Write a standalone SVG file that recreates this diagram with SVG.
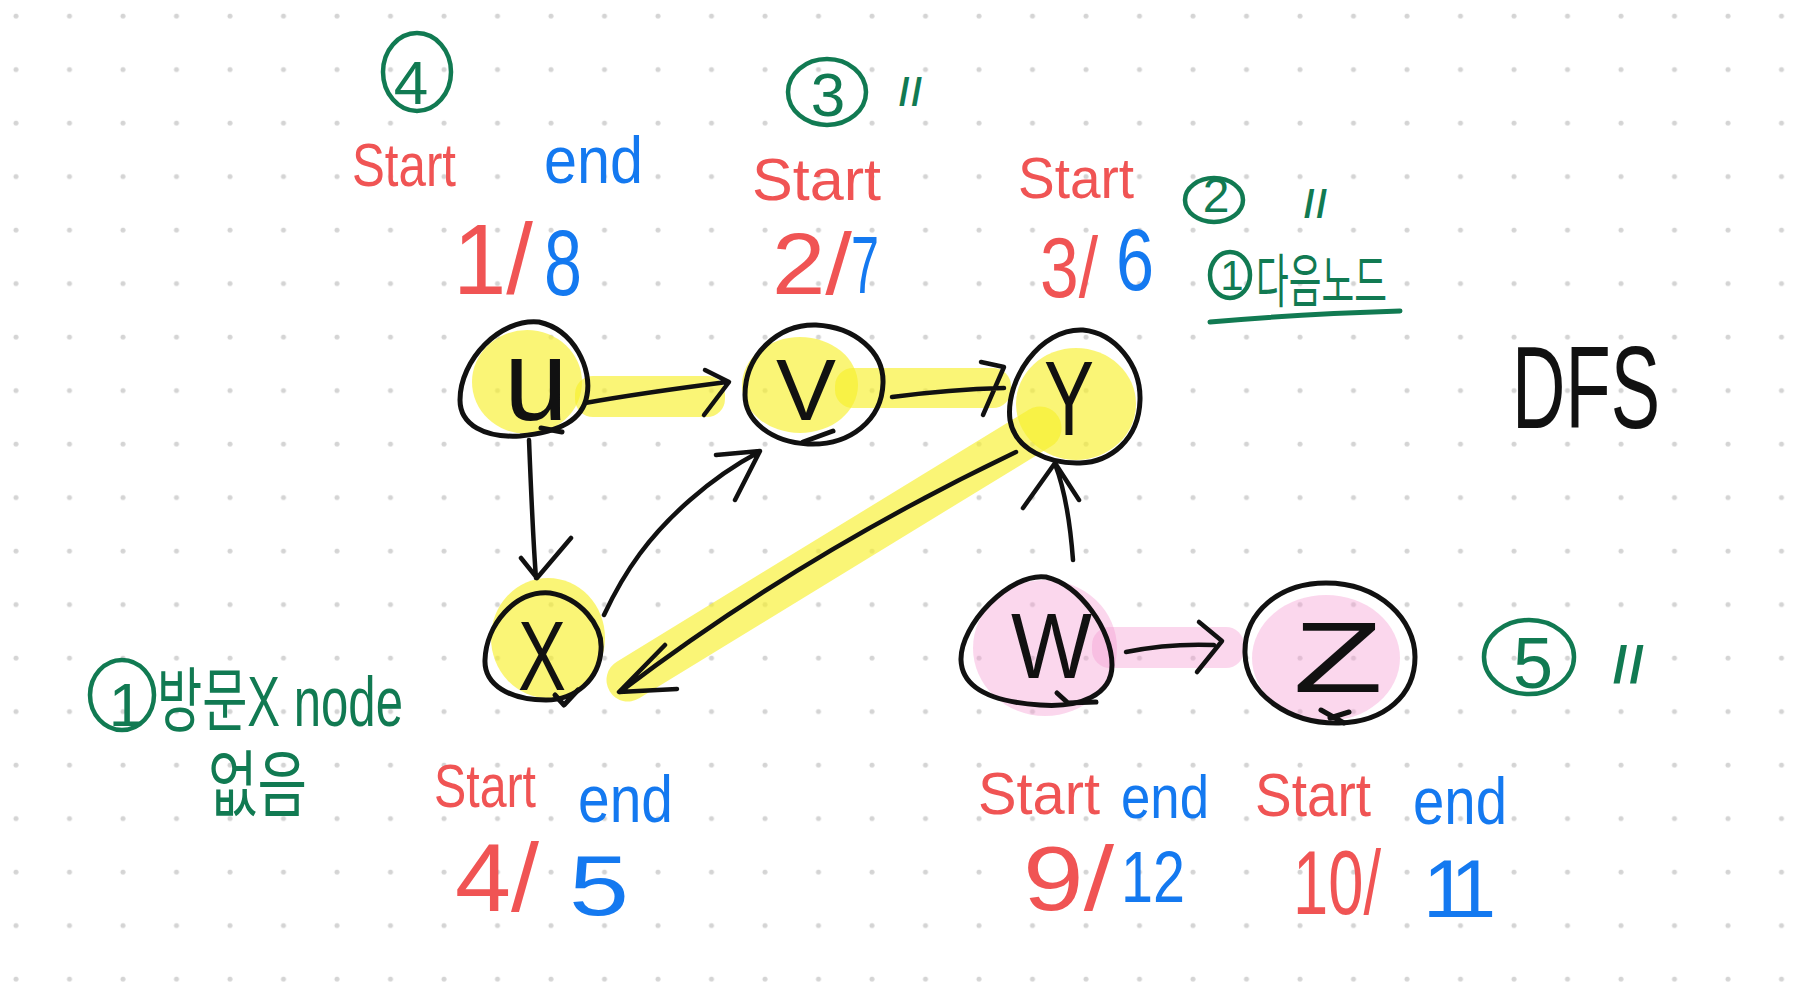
<svg xmlns="http://www.w3.org/2000/svg" width="1810" height="1000" viewBox="0 0 1810 1000">
<defs>
<pattern id="dots" x="0" y="0" width="53.5" height="53.5" patternUnits="userSpaceOnUse">
<circle cx="16" cy="16" r="2.5" fill="#d4d4d4"/>
</pattern>
<style>
.ring{fill:none;stroke:#111;stroke-width:5;stroke-linecap:round;stroke-linejoin:round}
.edge{fill:none;stroke:#111;stroke-width:4.5;stroke-linecap:round;stroke-linejoin:round}
.lbl{font-family:"Liberation Sans",Arial,sans-serif;fill:#111}
.red{font-family:"Liberation Sans",Arial,sans-serif;fill:#f05454}
.blue{font-family:"Liberation Sans",Arial,sans-serif;fill:#1479f0}
.grn{font-family:"Liberation Sans","Noto Sans CJK KR",sans-serif;fill:#117a52}
.kr{font-family:"Liberation Sans","Noto Sans CJK KR",sans-serif;fill:#117a52}
.ditto{font-family:"Liberation Sans",Arial,sans-serif;fill:#117a52;font-weight:bold}
.gring{fill:none;stroke:#117a52;stroke-width:4.5}
.yel{fill:#f7ef2d;opacity:0.65}
.yelband{fill:none;stroke:#f7ef2d;opacity:0.65;stroke-linecap:round}
.pnk{fill:#f49ad3;opacity:0.4}
</style>
</defs>
<rect width="1810" height="1000" fill="#ffffff"/>
<rect width="1810" height="1000" fill="url(#dots)"/>

<g id="highlights">
<ellipse class="yel" cx="527" cy="382" rx="55" ry="52"/>
<rect class="yel" x="575" y="376" width="150" height="41" rx="18"/>
<ellipse class="yel" cx="800" cy="385" rx="58" ry="48"/>
<rect class="yel" x="835" y="368" width="176" height="40" rx="18"/>
<ellipse class="yel" cx="1076" cy="404" rx="60" ry="56"/>
<path class="yelband" stroke-width="43" d="M1040,428 L628,680"/>
<ellipse class="yel" cx="548" cy="638" rx="57" ry="60"/>
<ellipse class="pnk" cx="1045" cy="648" rx="72" ry="68"/>
<rect class="pnk" x="1092" y="627" width="152" height="41" rx="18"/>
<ellipse class="pnk" cx="1326" cy="658" rx="74" ry="63"/>
</g>

<g id="connectors">
<path class="edge" d="M585,403 C630,395 680,388 727,382 M705,370 L729,382 L704,415"/>
<path class="edge" d="M892,397 C930,392 965,389 1004,388 M981,362 L1004,367 L983,415"/>
<path class="edge" d="M529,440 C531,490 533,540 536,578 M521,558 L537,578 L571,538"/>
<path class="edge" d="M604,615 C625,570 650,535 690,500 C715,478 740,462 759,452 M716,455 L760,451 L735,500"/>
<path class="edge" d="M1016,452 Q800,555 620,692 M665,645 L619,692 L677,689"/>
<path class="edge" d="M1073,560 C1070,520 1065,490 1055,464 M1023,508 L1055,463 L1079,500"/>
<path class="edge" d="M1126,652 C1160,645 1190,644 1214,645 M1199,622 L1222,641 L1197,672"/>
</g>

<g id="node-u">
<path class="ring" d="M539,322 C575,330 592,370 587,395 C583,420 560,432 520,436 C485,438 460,425 460,400 C460,360 500,318 539,322 Z"/>
<path class="ring" d="M541,428 L562,432"/>
<text class="lbl" x="504" y="420" font-size="115">u</text>
</g>

<g id="node-v">
<path class="ring" d="M816,325 C855,327 884,352 883,383 C882,420 850,446 808,444 C770,442 745,420 745,395 C745,355 778,324 816,325 Z"/>
<path class="ring" d="M803,442 L833,431"/>
<text class="lbl" x="776" y="420" font-size="87" textLength="60" lengthAdjust="spacingAndGlyphs">V</text>
</g>

<g id="node-y">
<path class="ring" d="M1083,330 C1115,333 1141,365 1140,400 C1139,440 1110,462 1080,463 C1050,464 1015,450 1010,420 C1005,380 1040,328 1083,330 Z"/>
<text class="lbl" x="1044" y="435" font-size="105" textLength="50" lengthAdjust="spacingAndGlyphs">Y</text>
</g>

<g id="node-x">
<path class="ring" d="M550,593 C580,598 603,625 601,650 C599,680 575,700 546,700 C510,700 484,685 485,660 C486,625 515,590 550,593 Z"/>
<path class="ring" d="M555,695 L564,705 L578,690"/>
<text class="lbl" x="518" y="690" font-size="98" textLength="48" lengthAdjust="spacingAndGlyphs">X</text>
</g>

<g id="node-w">
<path class="ring" d="M1046,577 C1080,585 1112,630 1112,665 C1112,695 1080,708 1040,705 C995,702 962,690 961,660 C960,625 1010,572 1046,577 Z"/>
<path class="ring" d="M1057,693 L1068,703 L1096,702"/>
<text class="lbl" x="1011" y="678" font-size="92" textLength="81" lengthAdjust="spacingAndGlyphs">W</text>
</g>

<g id="node-z">
<path class="ring" d="M1326,583 C1380,583 1415,620 1415,657 C1415,695 1385,722 1339,723 C1290,724 1246,695 1245,653 C1244,612 1280,583 1326,583 Z"/>
<path class="ring" d="M1321,710 L1344,723 M1330,718 L1349,712"/>
<text class="lbl" x="1293" y="692" font-size="100" textLength="90" lengthAdjust="spacingAndGlyphs">Z</text>
</g>

<g id="labels-u">
<ellipse class="gring" cx="417" cy="72" rx="34" ry="39"/>
<text class="grn" x="411" y="104" font-size="62" text-anchor="middle">4</text>
<text class="red" x="352" y="186" font-size="62" textLength="104" lengthAdjust="spacingAndGlyphs">Start</text>
<text class="blue" x="544" y="183" font-size="66" textLength="99" lengthAdjust="spacingAndGlyphs">end</text>
<text class="red" x="453" y="294" font-size="100" textLength="80" lengthAdjust="spacingAndGlyphs">1/</text>
<text class="blue" x="544" y="295" font-size="92" textLength="38" lengthAdjust="spacingAndGlyphs">8</text>
</g>

<g id="labels-v">
<ellipse class="gring" cx="827" cy="92" rx="39" ry="33"/>
<text class="grn" x="828" y="116" font-size="62" text-anchor="middle">3</text>
<text class="ditto" x="899" y="105" font-size="38" letter-spacing="2">//</text>
<text class="red" x="752" y="200" font-size="60" textLength="129" lengthAdjust="spacingAndGlyphs">Start</text>
<text class="red" x="772" y="294" font-size="88" textLength="80" lengthAdjust="spacingAndGlyphs">2/</text>
<text class="blue" x="851" y="293" font-size="82" textLength="28" lengthAdjust="spacingAndGlyphs">7</text>
</g>

<g id="labels-y">
<text class="red" x="1018" y="198" font-size="58" textLength="116" lengthAdjust="spacingAndGlyphs">Start</text>
<text class="red" x="1040" y="297" font-size="86" textLength="58" lengthAdjust="spacingAndGlyphs">3/</text>
<text class="blue" x="1116" y="290" font-size="88" textLength="38" lengthAdjust="spacingAndGlyphs">6</text>
<ellipse class="gring" cx="1214" cy="200" rx="29" ry="22"/>
<text class="grn" x="1216" y="212" font-size="48" text-anchor="middle">2</text>
<text class="ditto" x="1304" y="217" font-size="38" letter-spacing="2">//</text>
<ellipse class="gring" cx="1230" cy="275" rx="20" ry="23"/>
<text class="grn" x="1232" y="290" font-size="42" text-anchor="middle">1</text>
<text class="kr" x="1256" y="302" font-size="58" textLength="131" lengthAdjust="spacingAndGlyphs">다음노드</text>
<path d="M1210,322 Q1300,314 1400,311" fill="none" stroke="#117a52" stroke-width="5" stroke-linecap="round"/>
</g>

<g id="labels-x">
<ellipse class="gring" cx="122" cy="695" rx="32" ry="35"/>
<text class="grn" x="126" y="726" font-size="62" text-anchor="middle">1</text>
<text class="kr" x="157" y="726" font-size="70" textLength="246" lengthAdjust="spacingAndGlyphs">방문X node</text>
<text class="kr" x="208" y="810" font-size="72" textLength="99" lengthAdjust="spacingAndGlyphs">없음</text>
<text class="red" x="434" y="807" font-size="62" textLength="102" lengthAdjust="spacingAndGlyphs">Start</text>
<text class="blue" x="578" y="822" font-size="66" textLength="95" lengthAdjust="spacingAndGlyphs">end</text>
<text class="red" x="455" y="911" font-size="96" textLength="84" lengthAdjust="spacingAndGlyphs">4/</text>
<text class="blue" x="569" y="915" font-size="86" textLength="60" lengthAdjust="spacingAndGlyphs">5</text>
</g>

<g id="labels-w">
<text class="red" x="978" y="814" font-size="60" textLength="122" lengthAdjust="spacingAndGlyphs">Start</text>
<text class="blue" x="1121" y="818" font-size="62" textLength="88" lengthAdjust="spacingAndGlyphs">end</text>
<text class="red" x="1023" y="910" font-size="90" textLength="91" lengthAdjust="spacingAndGlyphs">9/</text>
<text class="blue" x="1121" y="902" font-size="72" textLength="64" lengthAdjust="spacingAndGlyphs">12</text>
</g>

<g id="labels-z">
<text class="red" x="1255" y="816" font-size="62" textLength="116" lengthAdjust="spacingAndGlyphs">Start</text>
<text class="blue" x="1413" y="824" font-size="66" textLength="94" lengthAdjust="spacingAndGlyphs">end</text>
<text class="red" x="1293" y="914" font-size="90" textLength="88" lengthAdjust="spacingAndGlyphs">10/</text>
<text class="blue" x="1423" y="917" font-size="82" letter-spacing="-12">11</text>
<ellipse class="gring" cx="1529" cy="657" rx="45" ry="37"/>
<text class="grn" x="1533" y="688" font-size="72" text-anchor="middle">5</text>
<text class="ditto" x="1613" y="683" font-size="52" letter-spacing="2">//</text>
</g>

<g id="title">
<text class="lbl" x="1512" y="428" font-size="116" textLength="148" lengthAdjust="spacingAndGlyphs">DFS</text>
</g>
</svg>
